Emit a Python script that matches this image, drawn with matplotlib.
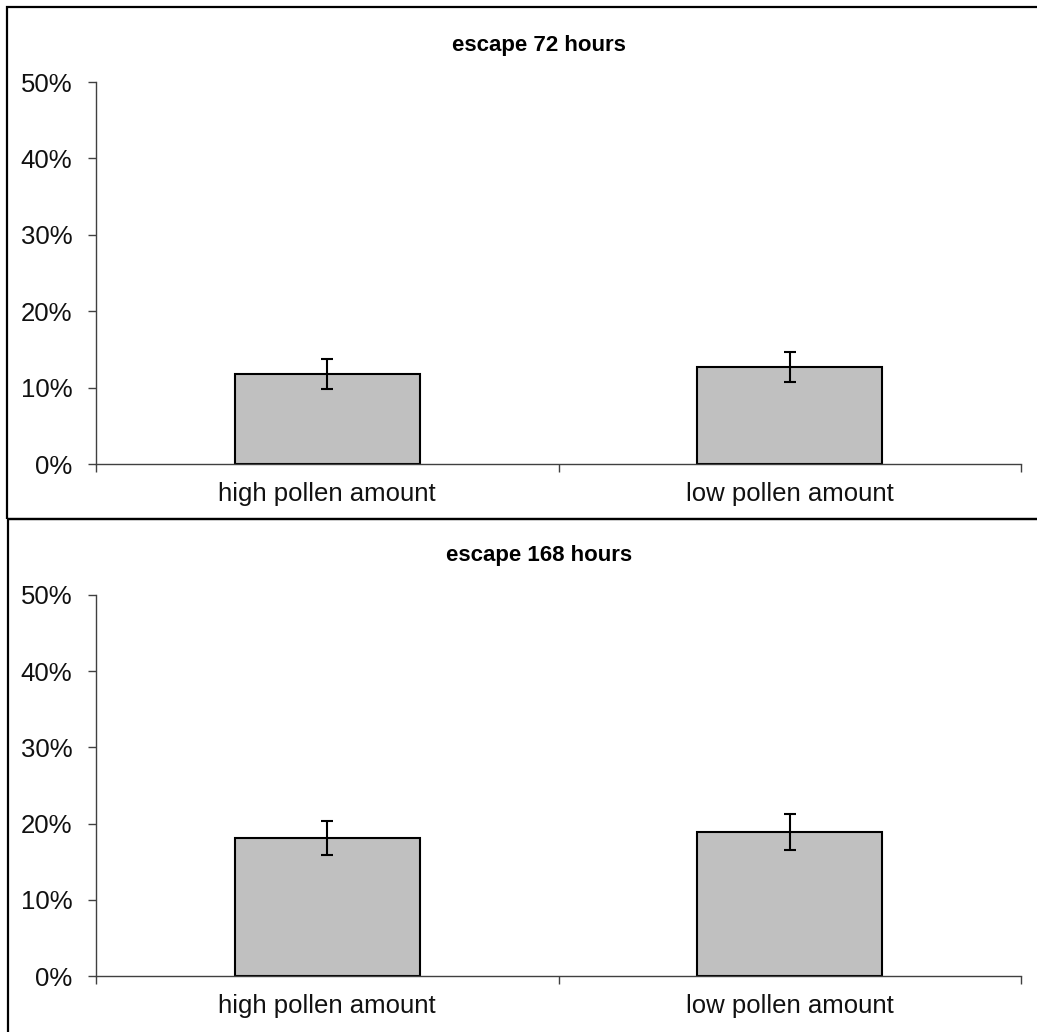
import matplotlib.pyplot as plt
from matplotlib.patches import Rectangle
from matplotlib.ticker import FixedLocator

plt.rcParams['font.family'] = ['Liberation Sans', 'DejaVu Sans']

# data
categories = ["high pollen amount", "low pollen amount"]
titles = ["escape 72 hours", "escape 168 hours"]
values_72 = [11.8, 12.7]
errors_72 = [1.95, 2.0]
values_168 = [18.1, 18.85]
errors_168 = [2.2, 2.35]
yticks = [0, 10, 20, 30, 40, 50]

W, H = 1037, 1032
fig = plt.figure(figsize=(W / 100, H / 100), dpi=100)

def fx(px):
    return px / W

def fy(py):
    return 1 - py / H

# panel frames
fig.patches.append(Rectangle((fx(7), fy(519)), fx(1040) - fx(7), fy(7) - fy(519),
                             transform=fig.transFigure, fill=False,
                             edgecolor='black', linewidth=1.6))
fig.patches.append(Rectangle((fx(8), fy(1040)), fx(1040) - fx(8), fy(519) - fy(1040),
                             transform=fig.transFigure, fill=False,
                             edgecolor='black', linewidth=1.6))

panels = [
    (values_72, errors_72, titles[0], 82, 464, 45),
    (values_168, errors_168, titles[1], 595, 976, 555),
]

for vals, errs, title, top, bot, ty in panels:
    ax = fig.add_axes([fx(96), fy(bot), fx(1021) - fx(96), fy(top) - fy(bot)])
    x = range(len(categories))
    ax.bar(x, vals, width=0.4, color='#C0C0C0', edgecolor='black', linewidth=1.5,
           yerr=errs, error_kw=dict(ecolor='black', elinewidth=1.5, capsize=4, capthick=1.5))
    ax.set_xlim(-0.5, 1.5)
    ax.set_ylim(0, 50)
    ax.set_yticks(yticks)
    ax.set_yticklabels([f"{t}%" for t in yticks])
    ax.set_xticks(list(x))
    ax.set_xticklabels(categories)
    ax.xaxis.set_minor_locator(FixedLocator([-0.5, 0.5, 1.5]))
    ax.tick_params(axis='x', which='major', length=0, pad=13, labelsize=18.5, labelcolor='#111111')
    ax.tick_params(axis='x', which='minor', length=6, width=1, color='#404040')
    ax.tick_params(axis='y', length=6, width=1, color='#404040', pad=11, labelsize=18.5,
                   labelcolor='#111111')
    for s in ['top', 'right']:
        ax.spines[s].set_visible(False)
    for s in ['left', 'bottom']:
        ax.spines[s].set_color('#404040')
        ax.spines[s].set_linewidth(1)
    fig.text(fx(539), fy(ty), title, ha='center', va='center',
             fontsize=16, fontweight='bold')

fig.savefig('out.png', dpi=100)
